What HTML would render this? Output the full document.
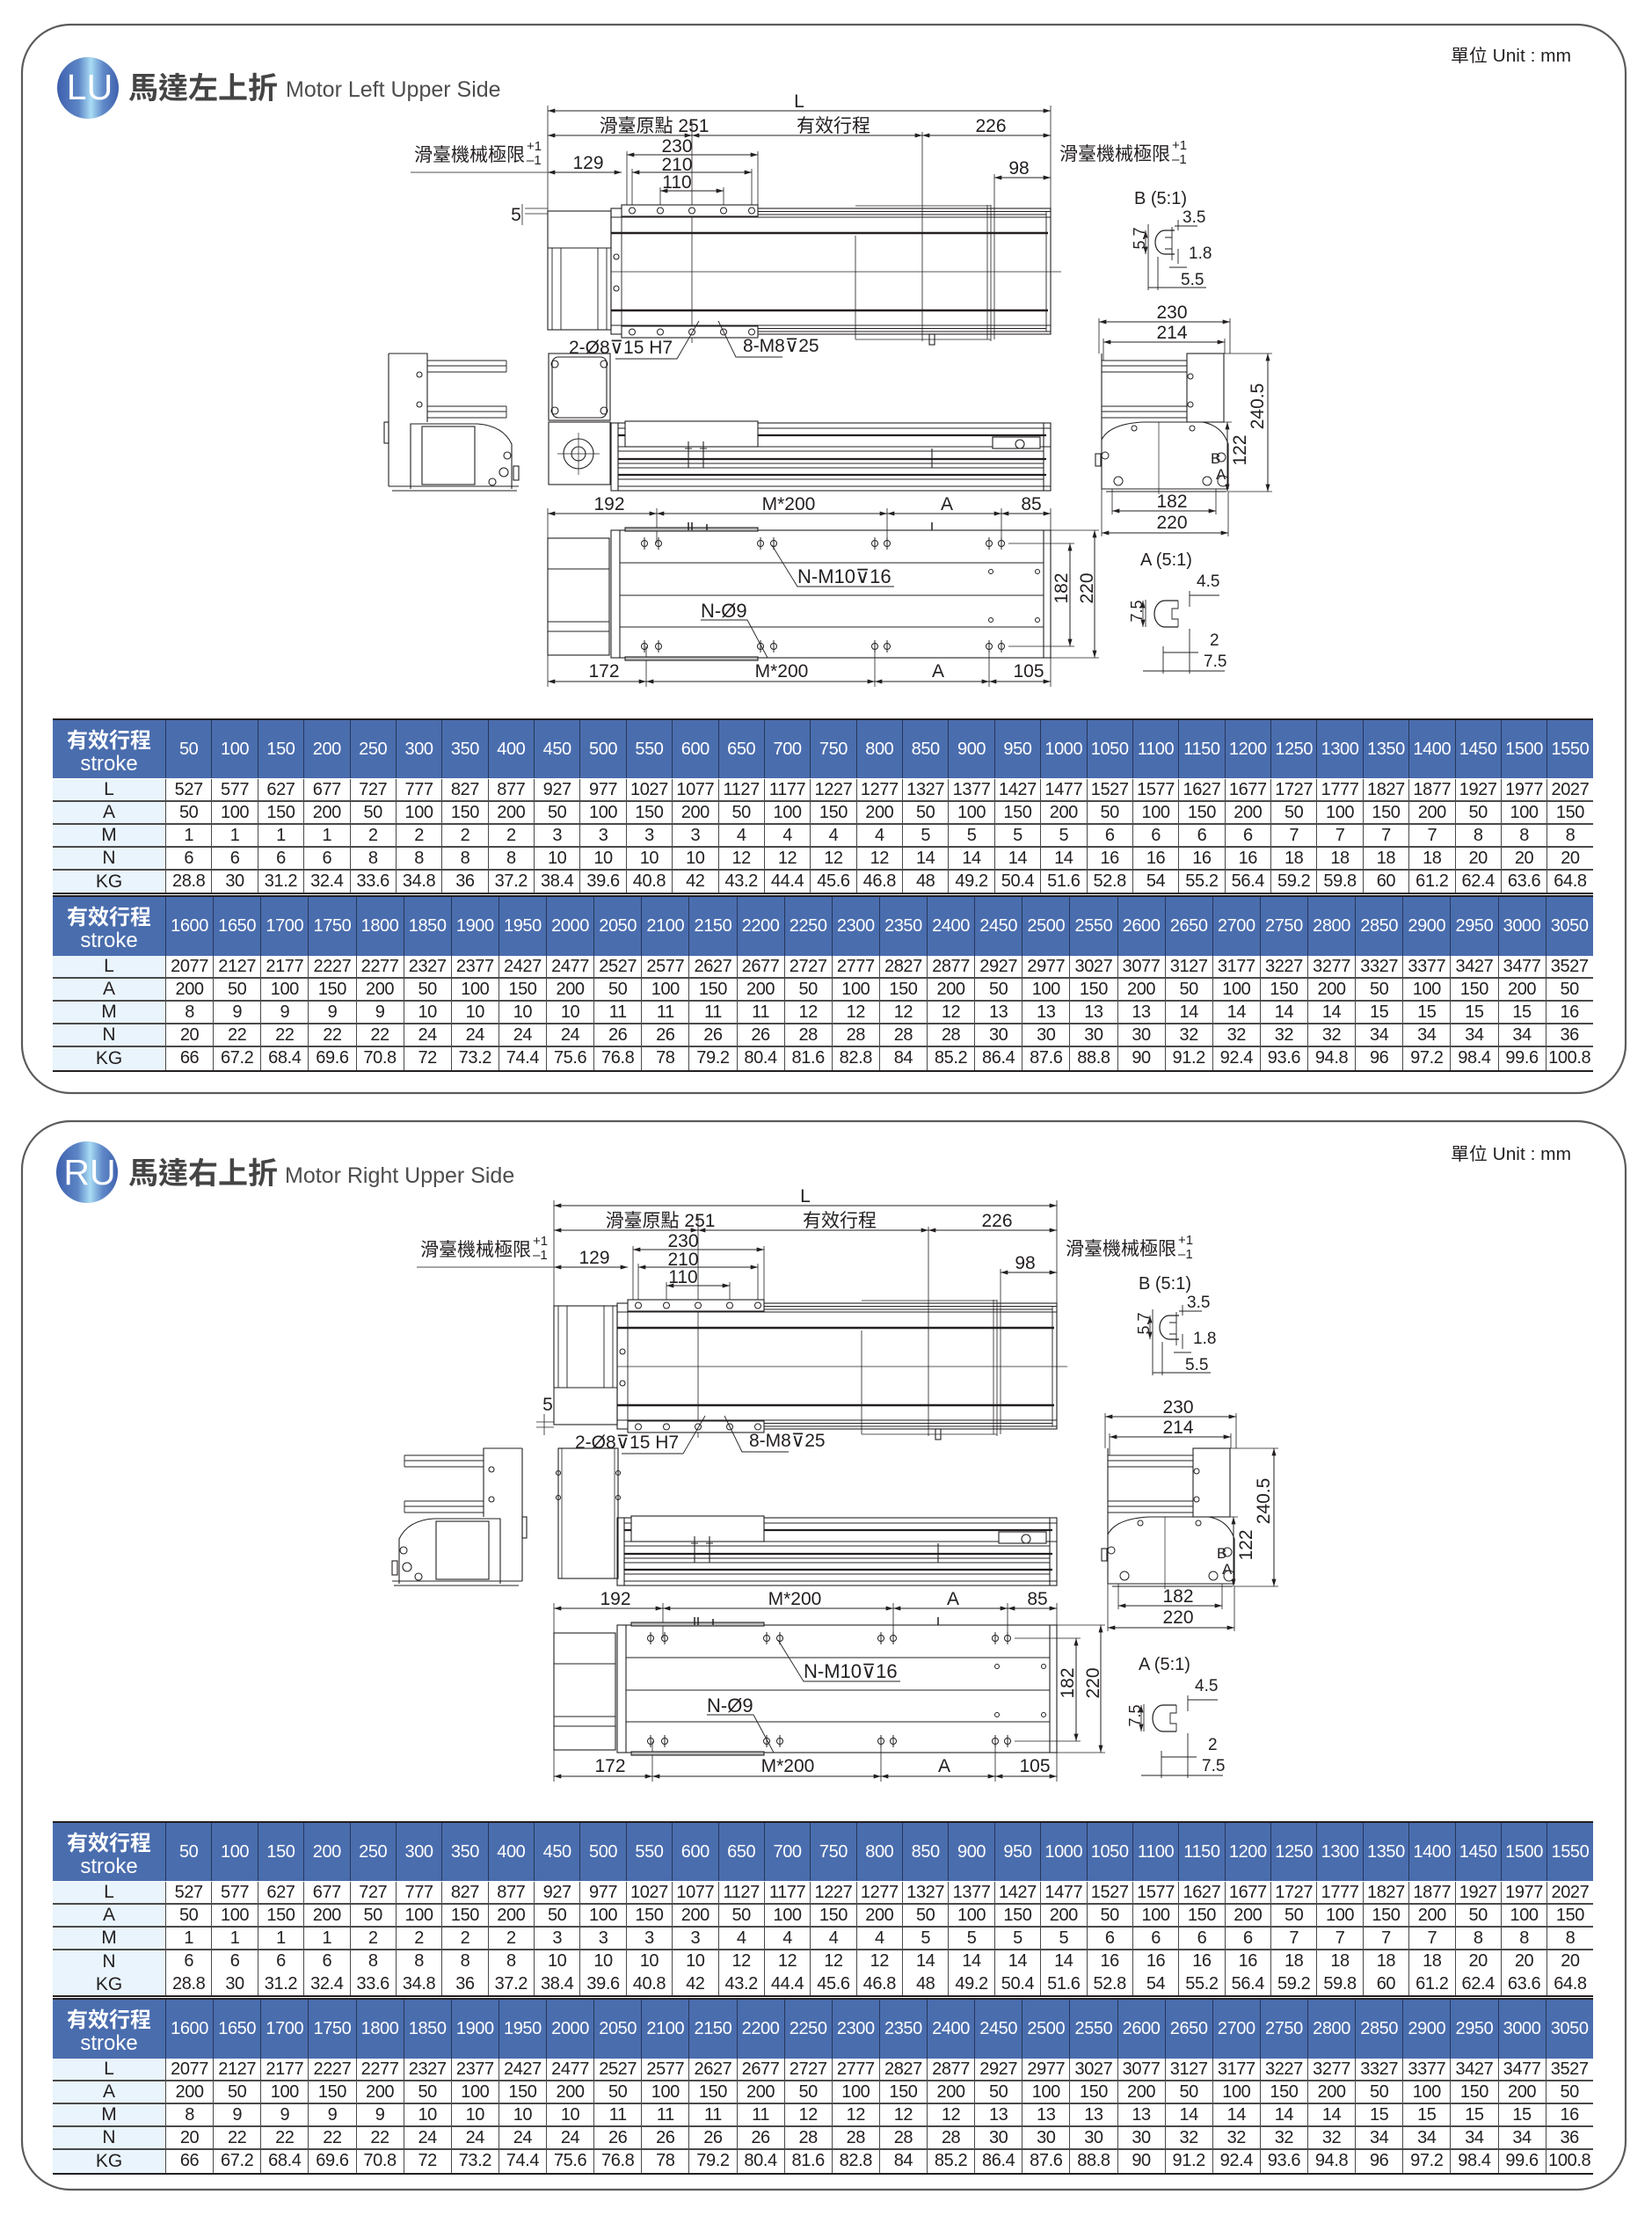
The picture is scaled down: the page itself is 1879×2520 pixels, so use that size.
<!DOCTYPE html>
<html><head><meta charset="utf-8">
<style>
*{margin:0;padding:0}
body{width:1879px;height:2520px;position:relative;background:#fff;overflow:hidden;font-family:"Liberation Sans","Noto Sans CJK TC",sans-serif}
.ln{position:absolute;left:60px;width:1752px;height:2px;background:#231f20}
.h{position:absolute;left:60px;width:1752px;display:flex;background:#4a6dae;color:#fff;font-size:20px}
.h b{flex:0 0 128px}
.h i{font-style:normal;flex:0 0 52.387px;box-sizing:border-box;border-left:1.5px solid #27365a;display:flex;align-items:center;justify-content:center;letter-spacing:-0.4px;white-space:nowrap}
.r{position:absolute;left:60px;width:1752px;height:26px;display:flex;box-sizing:border-box;border-bottom:2px solid #4a4a4a;font-size:20px;line-height:24px;color:#231f20}
.r.n{border-bottom:0;line-height:25px}
.r.x{border-bottom:0;line-height:25px}
.r b{flex:0 0 128px;background:#e9f4fc;text-align:center;font-weight:normal;font-size:21px}
.r i{font-style:normal;flex:0 0 52.387px;box-sizing:border-box;border-left:1.5px solid #4a4a4a;text-align:center;letter-spacing:-0.4px;white-space:nowrap}
.w i{flex-basis:54.133px}
svg{position:absolute;left:0;top:0}
</style></head><body>

<!-- ===== SECTION 1 TABLES ===== -->
<div class="ln" style="top:817px"></div>
<div class="h" style="top:819px;height:66px"><b></b><i>50</i><i>100</i><i>150</i><i>200</i><i>250</i><i>300</i><i>350</i><i>400</i><i>450</i><i>500</i><i>550</i><i>600</i><i>650</i><i>700</i><i>750</i><i>800</i><i>850</i><i>900</i><i>950</i><i>1000</i><i>1050</i><i>1100</i><i>1150</i><i>1200</i><i>1250</i><i>1300</i><i>1350</i><i>1400</i><i>1450</i><i>1500</i><i>1550</i></div>
<div class="r" style="top:886px"><b>L</b><i>527</i><i>577</i><i>627</i><i>677</i><i>727</i><i>777</i><i>827</i><i>877</i><i>927</i><i>977</i><i>1027</i><i>1077</i><i>1127</i><i>1177</i><i>1227</i><i>1277</i><i>1327</i><i>1377</i><i>1427</i><i>1477</i><i>1527</i><i>1577</i><i>1627</i><i>1677</i><i>1727</i><i>1777</i><i>1827</i><i>1877</i><i>1927</i><i>1977</i><i>2027</i></div>
<div class="r" style="top:912px"><b>A</b><i>50</i><i>100</i><i>150</i><i>200</i><i>50</i><i>100</i><i>150</i><i>200</i><i>50</i><i>100</i><i>150</i><i>200</i><i>50</i><i>100</i><i>150</i><i>200</i><i>50</i><i>100</i><i>150</i><i>200</i><i>50</i><i>100</i><i>150</i><i>200</i><i>50</i><i>100</i><i>150</i><i>200</i><i>50</i><i>100</i><i>150</i></div>
<div class="r" style="top:938px"><b>M</b><i>1</i><i>1</i><i>1</i><i>1</i><i>2</i><i>2</i><i>2</i><i>2</i><i>3</i><i>3</i><i>3</i><i>3</i><i>4</i><i>4</i><i>4</i><i>4</i><i>5</i><i>5</i><i>5</i><i>5</i><i>6</i><i>6</i><i>6</i><i>6</i><i>7</i><i>7</i><i>7</i><i>7</i><i>8</i><i>8</i><i>8</i></div>
<div class="r" style="top:964px"><b>N</b><i>6</i><i>6</i><i>6</i><i>6</i><i>8</i><i>8</i><i>8</i><i>8</i><i>10</i><i>10</i><i>10</i><i>10</i><i>12</i><i>12</i><i>12</i><i>12</i><i>14</i><i>14</i><i>14</i><i>14</i><i>16</i><i>16</i><i>16</i><i>16</i><i>18</i><i>18</i><i>18</i><i>18</i><i>20</i><i>20</i><i>20</i></div>
<div class="r n" style="top:990px;height:25px"><b>KG</b><i>28.8</i><i>30</i><i>31.2</i><i>32.4</i><i>33.6</i><i>34.8</i><i>36</i><i>37.2</i><i>38.4</i><i>39.6</i><i>40.8</i><i>42</i><i>43.2</i><i>44.4</i><i>45.6</i><i>46.8</i><i>48</i><i>49.2</i><i>50.4</i><i>51.6</i><i>52.8</i><i>54</i><i>55.2</i><i>56.4</i><i>59.2</i><i>59.8</i><i>60</i><i>61.2</i><i>62.4</i><i>63.6</i><i>64.8</i></div>
<div class="ln" style="top:1015px"></div>
<div class="ln" style="top:1018px"></div>
<div class="h w" style="top:1020px;height:67px"><b></b><i>1600</i><i>1650</i><i>1700</i><i>1750</i><i>1800</i><i>1850</i><i>1900</i><i>1950</i><i>2000</i><i>2050</i><i>2100</i><i>2150</i><i>2200</i><i>2250</i><i>2300</i><i>2350</i><i>2400</i><i>2450</i><i>2500</i><i>2550</i><i>2600</i><i>2650</i><i>2700</i><i>2750</i><i>2800</i><i>2850</i><i>2900</i><i>2950</i><i>3000</i><i>3050</i></div>
<div class="r w" style="top:1087px"><b>L</b><i>2077</i><i>2127</i><i>2177</i><i>2227</i><i>2277</i><i>2327</i><i>2377</i><i>2427</i><i>2477</i><i>2527</i><i>2577</i><i>2627</i><i>2677</i><i>2727</i><i>2777</i><i>2827</i><i>2877</i><i>2927</i><i>2977</i><i>3027</i><i>3077</i><i>3127</i><i>3177</i><i>3227</i><i>3277</i><i>3327</i><i>3377</i><i>3427</i><i>3477</i><i>3527</i></div>
<div class="r w" style="top:1113px"><b>A</b><i>200</i><i>50</i><i>100</i><i>150</i><i>200</i><i>50</i><i>100</i><i>150</i><i>200</i><i>50</i><i>100</i><i>150</i><i>200</i><i>50</i><i>100</i><i>150</i><i>200</i><i>50</i><i>100</i><i>150</i><i>200</i><i>50</i><i>100</i><i>150</i><i>200</i><i>50</i><i>100</i><i>150</i><i>200</i><i>50</i></div>
<div class="r w" style="top:1139px"><b>M</b><i>8</i><i>9</i><i>9</i><i>9</i><i>9</i><i>10</i><i>10</i><i>10</i><i>10</i><i>11</i><i>11</i><i>11</i><i>11</i><i>12</i><i>12</i><i>12</i><i>12</i><i>13</i><i>13</i><i>13</i><i>13</i><i>14</i><i>14</i><i>14</i><i>14</i><i>15</i><i>15</i><i>15</i><i>15</i><i>16</i></div>
<div class="r w" style="top:1165px"><b>N</b><i>20</i><i>22</i><i>22</i><i>22</i><i>22</i><i>24</i><i>24</i><i>24</i><i>24</i><i>26</i><i>26</i><i>26</i><i>26</i><i>28</i><i>28</i><i>28</i><i>28</i><i>30</i><i>30</i><i>30</i><i>30</i><i>32</i><i>32</i><i>32</i><i>32</i><i>34</i><i>34</i><i>34</i><i>34</i><i>36</i></div>
<div class="r w n" style="top:1191px"><b>KG</b><i>66</i><i>67.2</i><i>68.4</i><i>69.6</i><i>70.8</i><i>72</i><i>73.2</i><i>74.4</i><i>75.6</i><i>76.8</i><i>78</i><i>79.2</i><i>80.4</i><i>81.6</i><i>82.8</i><i>84</i><i>85.2</i><i>86.4</i><i>87.6</i><i>88.8</i><i>90</i><i>91.2</i><i>92.4</i><i>93.6</i><i>94.8</i><i>96</i><i>97.2</i><i>98.4</i><i>99.6</i><i>100.8</i></div>
<div class="ln" style="top:1217px"></div>

<!-- ===== SECTION 2 TABLES ===== -->
<div class="ln" style="top:2071px"></div>
<div class="h" style="top:2073px;height:66px"><b></b><i>50</i><i>100</i><i>150</i><i>200</i><i>250</i><i>300</i><i>350</i><i>400</i><i>450</i><i>500</i><i>550</i><i>600</i><i>650</i><i>700</i><i>750</i><i>800</i><i>850</i><i>900</i><i>950</i><i>1000</i><i>1050</i><i>1100</i><i>1150</i><i>1200</i><i>1250</i><i>1300</i><i>1350</i><i>1400</i><i>1450</i><i>1500</i><i>1550</i></div>
<div class="r" style="top:2140px"><b>L</b><i>527</i><i>577</i><i>627</i><i>677</i><i>727</i><i>777</i><i>827</i><i>877</i><i>927</i><i>977</i><i>1027</i><i>1077</i><i>1127</i><i>1177</i><i>1227</i><i>1277</i><i>1327</i><i>1377</i><i>1427</i><i>1477</i><i>1527</i><i>1577</i><i>1627</i><i>1677</i><i>1727</i><i>1777</i><i>1827</i><i>1877</i><i>1927</i><i>1977</i><i>2027</i></div>
<div class="r" style="top:2166px"><b>A</b><i>50</i><i>100</i><i>150</i><i>200</i><i>50</i><i>100</i><i>150</i><i>200</i><i>50</i><i>100</i><i>150</i><i>200</i><i>50</i><i>100</i><i>150</i><i>200</i><i>50</i><i>100</i><i>150</i><i>200</i><i>50</i><i>100</i><i>150</i><i>200</i><i>50</i><i>100</i><i>150</i><i>200</i><i>50</i><i>100</i><i>150</i></div>
<div class="r" style="top:2192px"><b>M</b><i>1</i><i>1</i><i>1</i><i>1</i><i>2</i><i>2</i><i>2</i><i>2</i><i>3</i><i>3</i><i>3</i><i>3</i><i>4</i><i>4</i><i>4</i><i>4</i><i>5</i><i>5</i><i>5</i><i>5</i><i>6</i><i>6</i><i>6</i><i>6</i><i>7</i><i>7</i><i>7</i><i>7</i><i>8</i><i>8</i><i>8</i></div>
<div class="r x" style="top:2218px"><b>N</b><i>6</i><i>6</i><i>6</i><i>6</i><i>8</i><i>8</i><i>8</i><i>8</i><i>10</i><i>10</i><i>10</i><i>10</i><i>12</i><i>12</i><i>12</i><i>12</i><i>14</i><i>14</i><i>14</i><i>14</i><i>16</i><i>16</i><i>16</i><i>16</i><i>18</i><i>18</i><i>18</i><i>18</i><i>20</i><i>20</i><i>20</i></div>
<div class="r n" style="top:2244px;height:25px"><b>KG</b><i>28.8</i><i>30</i><i>31.2</i><i>32.4</i><i>33.6</i><i>34.8</i><i>36</i><i>37.2</i><i>38.4</i><i>39.6</i><i>40.8</i><i>42</i><i>43.2</i><i>44.4</i><i>45.6</i><i>46.8</i><i>48</i><i>49.2</i><i>50.4</i><i>51.6</i><i>52.8</i><i>54</i><i>55.2</i><i>56.4</i><i>59.2</i><i>59.8</i><i>60</i><i>61.2</i><i>62.4</i><i>63.6</i><i>64.8</i></div>
<div class="ln" style="top:2269px"></div>
<div class="ln" style="top:2272px"></div>
<div class="h w" style="top:2274px;height:67px"><b></b><i>1600</i><i>1650</i><i>1700</i><i>1750</i><i>1800</i><i>1850</i><i>1900</i><i>1950</i><i>2000</i><i>2050</i><i>2100</i><i>2150</i><i>2200</i><i>2250</i><i>2300</i><i>2350</i><i>2400</i><i>2450</i><i>2500</i><i>2550</i><i>2600</i><i>2650</i><i>2700</i><i>2750</i><i>2800</i><i>2850</i><i>2900</i><i>2950</i><i>3000</i><i>3050</i></div>
<div class="r w" style="top:2341px"><b>L</b><i>2077</i><i>2127</i><i>2177</i><i>2227</i><i>2277</i><i>2327</i><i>2377</i><i>2427</i><i>2477</i><i>2527</i><i>2577</i><i>2627</i><i>2677</i><i>2727</i><i>2777</i><i>2827</i><i>2877</i><i>2927</i><i>2977</i><i>3027</i><i>3077</i><i>3127</i><i>3177</i><i>3227</i><i>3277</i><i>3327</i><i>3377</i><i>3427</i><i>3477</i><i>3527</i></div>
<div class="r w" style="top:2367px"><b>A</b><i>200</i><i>50</i><i>100</i><i>150</i><i>200</i><i>50</i><i>100</i><i>150</i><i>200</i><i>50</i><i>100</i><i>150</i><i>200</i><i>50</i><i>100</i><i>150</i><i>200</i><i>50</i><i>100</i><i>150</i><i>200</i><i>50</i><i>100</i><i>150</i><i>200</i><i>50</i><i>100</i><i>150</i><i>200</i><i>50</i></div>
<div class="r w" style="top:2393px"><b>M</b><i>8</i><i>9</i><i>9</i><i>9</i><i>9</i><i>10</i><i>10</i><i>10</i><i>10</i><i>11</i><i>11</i><i>11</i><i>11</i><i>12</i><i>12</i><i>12</i><i>12</i><i>13</i><i>13</i><i>13</i><i>13</i><i>14</i><i>14</i><i>14</i><i>14</i><i>15</i><i>15</i><i>15</i><i>15</i><i>16</i></div>
<div class="r w" style="top:2419px"><b>N</b><i>20</i><i>22</i><i>22</i><i>22</i><i>22</i><i>24</i><i>24</i><i>24</i><i>24</i><i>26</i><i>26</i><i>26</i><i>26</i><i>28</i><i>28</i><i>28</i><i>28</i><i>30</i><i>30</i><i>30</i><i>30</i><i>32</i><i>32</i><i>32</i><i>32</i><i>34</i><i>34</i><i>34</i><i>34</i><i>36</i></div>
<div class="r w n" style="top:2445px"><b>KG</b><i>66</i><i>67.2</i><i>68.4</i><i>69.6</i><i>70.8</i><i>72</i><i>73.2</i><i>74.4</i><i>75.6</i><i>76.8</i><i>78</i><i>79.2</i><i>80.4</i><i>81.6</i><i>82.8</i><i>84</i><i>85.2</i><i>86.4</i><i>87.6</i><i>88.8</i><i>90</i><i>91.2</i><i>92.4</i><i>93.6</i><i>94.8</i><i>96</i><i>97.2</i><i>98.4</i><i>99.6</i><i>100.8</i></div>
<div class="ln" style="top:2471px"></div>

<svg width="1879" height="2520" viewBox="0 0 1879 2520" xmlns="http://www.w3.org/2000/svg">
<defs>
<marker id="ar" viewBox="0 0 10 6" refX="10" refY="3" markerWidth="9" markerHeight="5" markerUnits="userSpaceOnUse" orient="auto-start-reverse"><path d="M0,0L10,3L0,6z" fill="#231f20"/></marker>
<linearGradient id="lg" x1="0" x2="1" y1="0" y2="0"><stop offset="0" stop-color="#3d5fad"/><stop offset="0.35" stop-color="#5d86c6"/><stop offset="0.55" stop-color="#a9dcf4"/><stop offset="0.75" stop-color="#6089c8"/><stop offset="1" stop-color="#3f61ae"/></linearGradient>

<g id="d1" fill="none" stroke="#231f20" stroke-width="1.1">
 <g stroke-width="1" marker-start="url(#ar)" marker-end="url(#ar)">
  <path d="M623,126H1195"/>
  <path d="M623,154H787"/><path d="M787,154H1049"/><path d="M1049,154H1195"/>
  <path d="M713,176H862"/><path d="M719,196H855"/><path d="M623,196H707"/>
  <path d="M751,217H823"/><path d="M1131,202H1195"/>
  <path d="M623,584H747"/><path d="M747,584H1009"/><path d="M1009,584H1139"/><path d="M1139,584H1195"/>
  <path d="M623,775H735"/><path d="M735,775H995"/><path d="M995,775H1125"/><path d="M1125,775H1195"/>
  <path d="M1217,618V735"/><path d="M1245,603V748"/>
  <path d="M1250,366H1399"/><path d="M1255,389H1393"/>
  <path d="M1442,402V559"/><path d="M1396,480V559"/>
  <path d="M1265,581H1383"/><path d="M1253,606H1397"/>
 </g>
 <path stroke-width="0.8" d="M623,120V375M1195,120V237M1049,150V388M787,138V390M713,172V236M862,172V236M719,192V240M855,192V240M751,213V240M823,213V240M1131,198V386"/>
 <path d="M467,196H623" stroke="#8a8a8a" stroke-width="1.6"/>
 <rect x="695" y="237" width="500" height="143"/>
 <path stroke-width="0.9" d="M707,240.5H1195M862,244H1190M695,247H1195M695,370H1195M862,373.5H1190M707,377H1195M707,247V370M1190,240V377"/>
 <path d="M695,265H1192M695,353H1192" stroke-width="2.6"/>
 <path d="M695,309H1207" stroke-width="0.8"/>
 <rect x="707" y="233" width="155" height="13" fill="#fff"/>
 <rect x="707" y="371" width="155" height="13" fill="#fff"/>
 <g stroke-width="1"><circle cx="719" cy="239.5" r="3.5"/><circle cx="751" cy="239.5" r="3.5"/><circle cx="787" cy="239.5" r="3.5"/><circle cx="823" cy="239.5" r="3.5"/><circle cx="855" cy="239.5" r="3.5"/><circle cx="719" cy="377.5" r="3.5"/><circle cx="751" cy="377.5" r="3.5"/><circle cx="787" cy="377.5" r="3.5"/><circle cx="823" cy="377.5" r="3.5"/><circle cx="855" cy="377.5" r="3.5"/></g>
 <path stroke-width="0.8" d="M973,234H1127M973,386H1127M973,268V386M1123,233V386M1127,233V388"/>
 <rect x="1057" y="380" width="6" height="12"/>
 <circle cx="701" cy="292" r="3"/><circle cx="701" cy="328" r="3"/>
 <path stroke-width="0.9" d="M700,408H770L795,365M890,406H837L817,365"/>
 <rect x="695" y="481" width="500" height="77"/>
 <path d="M703,481V558M1187,481V558"/>
 <path stroke-width="0.9" d="M703,487H1195M703,508H1195M703,513H1187M703,527H1187M703,532H1187M703,545H1187M703,553H1195"/>
 <path d="M703,495H1190M703,522H1190M703,540H1190" stroke-width="2.2"/>
 <rect x="711" y="479" width="151" height="29" fill="#fff"/>
 <rect x="1129" y="497" width="54" height="13" fill="#fff"/>
 <circle cx="1160" cy="505" r="5"/>
 <path d="M783,502V532M800,502V532M1060,510V532M779,510H787M796,510H804"/>
 <path stroke-width="0.8" d="M623,578V612M747,578V618M1009,578V618M1139,578V618M1195,578V603M623,745V781M735,735V781M995,735V781M1125,735V781M1195,748V781M1147,618H1222M1147,735H1222M1195,603H1250M1195,748H1250"/>
 <rect x="695" y="603" width="500" height="145"/>
 <path d="M705,603V748M1187,603V748M705,640H1187M705,677H1187M705,713H1187"/>
 <rect x="711" y="600" width="151" height="4" fill="#bbb"/>
 <rect x="711" y="747" width="151" height="4" fill="#bbb"/>
 <path d="M783,594V603M787,594V603M804,596V603M1060,594V603" stroke-width="1.5"/>
 <rect x="623" y="612" width="70" height="133"/>
 <path d="M623,647H693M623,707H693M623,718H693"/>
 <g stroke-width="1"><circle cx="733" cy="618" r="3.5"/><circle cx="749" cy="618" r="3.5"/><circle cx="865" cy="618" r="3.5"/><circle cx="880" cy="618" r="3.5"/><circle cx="995" cy="618" r="3.5"/><circle cx="1009" cy="618" r="3.5"/><circle cx="1125" cy="618" r="3.5"/><circle cx="1139" cy="618" r="3.5"/><circle cx="733" cy="735" r="3.5"/><circle cx="749" cy="735" r="3.5"/><circle cx="865" cy="735" r="3.5"/><circle cx="880" cy="735" r="3.5"/><circle cx="995" cy="735" r="3.5"/><circle cx="1009" cy="735" r="3.5"/><circle cx="1125" cy="735" r="3.5"/><circle cx="1139" cy="735" r="3.5"/>
 <path d="M733,611V625M749,611V625M865,611V625M880,611V625M995,611V625M1009,611V625M1125,611V625M1139,611V625M733,728V742M749,728V742M865,728V742M880,728V742M995,728V742M1009,728V742M1125,728V742M1139,728V742"/>
 <circle cx="1127" cy="650" r="2.5"/><circle cx="1180" cy="650" r="2.5"/><circle cx="1127" cy="705" r="2.5"/><circle cx="1180" cy="705" r="2.5"/></g>
 <path stroke-width="0.9" d="M1017,667H907L878,620M850,705H797M850,705L873,748"/>
 <path d="M1253,402V556M1253,556H1397M1258,559H1395"/>
 <rect x="1350" y="402" width="42" height="78"/>
 <path stroke-width="0.9" d="M1253,410H1350M1253,416H1350M1253,423H1350M1253,462H1350M1253,468H1350M1253,475H1350"/>
 <path d="M1253,500Q1262,482 1300,480H1368Q1390,484 1397,505V556"/>
 <path d="M1318,480V562" stroke-width="0.7"/>
 <rect x="1246" y="516" width="6" height="14"/>
 <g stroke-width="1"><circle cx="1354" cy="428" r="3"/><circle cx="1354" cy="460" r="3"/><circle cx="1290" cy="487" r="3"/><circle cx="1356" cy="487" r="3"/><circle cx="1257" cy="518" r="4"/><circle cx="1272" cy="547" r="5"/><circle cx="1373" cy="547" r="5"/><circle cx="1391" cy="547" r="6"/><circle cx="1389" cy="520" r="5"/></g>
 <path stroke-width="0.8" d="M1250,362V402M1399,362V402M1255,385V410M1393,385V402M1392,402H1447M1397,559H1447M1392,480H1401M1265,556V585M1383,556V585M1253,556V610M1397,559V610"/>
</g>

<g id="le" fill="none" stroke="#231f20" stroke-width="1.1">
 <path d="M442,402H486V480M442,402V553"/>
 <path stroke-width="0.9" d="M486,410H576M486,416H576M486,423H576M486,462H576M486,468H576M486,475H576M576,410V423M576,462V475"/>
 <path d="M467,556V482H543Q572,484 582,505V556"/>
 <rect x="480" y="485" width="60" height="66"/>
 <path d="M442,553H590M446,558H588"/>
 <rect x="437" y="480" width="5" height="24"/>
 <rect x="584" y="530" width="6" height="16"/>
 <circle cx="477" cy="426" r="3"/><circle cx="477" cy="460" r="3"/><circle cx="577" cy="518" r="4"/><circle cx="573" cy="537" r="5"/><circle cx="560" cy="548" r="4"/>
</g>

<g id="db" fill="none" stroke="#231f20" stroke-width="0.9">
 <path d="M1306,255V296M1333,258V270M1333,283V296"/>
 <path d="M1336,262H1325A11,13.5 0 0 0 1325,289H1336" stroke-width="1.2"/>
 <path d="M1325,270H1333V283H1325"/>
 <path d="M1336,257H1362M1340,250V262M1340,283V300M1330,304H1350M1317,292V330M1306,296V330M1306,327H1372"/>
 <path d="M1303,262V289" marker-start="url(#ar)" marker-end="url(#ar)"/>
</g>
<g id="da" fill="none" stroke="#231f20" stroke-width="0.9">
 <path d="M1303,682V713"/>
 <path d="M1340,683H1325A12,15 0 0 0 1325,713H1340" stroke-width="1.2"/>
 <path d="M1340,683V692H1333V704H1340V713"/>
 <path d="M1353,677H1387M1353,672V690M1323,742H1363M1323,735V766M1353,715V766M1300,763H1393"/>
 <path d="M1300,683V713" marker-start="url(#ar)" marker-end="url(#ar)"/>
</g>
</defs>

<rect x="25" y="28" width="1824" height="1215" rx="55" fill="none" stroke="#5b5b5b" stroke-width="2.2"/>
<rect x="25" y="1275" width="1824" height="1215" rx="55" fill="none" stroke="#5b5b5b" stroke-width="2.2"/>

<circle cx="100" cy="100" r="35" fill="url(#lg)"/>
<text x="102" y="113" font-size="41" fill="#fff" text-anchor="middle" font-family="Liberation Sans">LU</text>
<text x="146" y="112" font-size="34" font-weight="bold" fill="#444" font-family="Noto Sans CJK TC,sans-serif">馬達左上折</text>
<text x="325" y="110" font-size="25" fill="#4d4d4d" font-family="Liberation Sans">Motor Left Upper Side</text>
<text x="1650" y="70" font-size="20" fill="#231f20" textLength="137" lengthAdjust="spacingAndGlyphs" font-family="Liberation Sans,Noto Sans CJK TC,sans-serif">單位 Unit : mm</text>

<circle cx="99" cy="1333" r="35" fill="url(#lg)"/>
<text x="102" y="1347" font-size="41" fill="#fff" text-anchor="middle" font-family="Liberation Sans">RU</text>
<text x="146" y="1346" font-size="34" font-weight="bold" fill="#444" font-family="Noto Sans CJK TC,sans-serif">馬達右上折</text>
<text x="324" y="1345" font-size="25" fill="#4d4d4d" font-family="Liberation Sans">Motor Right Upper Side</text>
<text x="1650" y="1319" font-size="20" fill="#231f20" textLength="137" lengthAdjust="spacingAndGlyphs" font-family="Liberation Sans,Noto Sans CJK TC,sans-serif">單位 Unit : mm</text>

<g fill="#fff" text-anchor="middle">
 <g font-size="24" font-weight="bold" font-family="Noto Sans CJK TC,sans-serif">
  <text x="124" y="850">有效行程</text><text x="124" y="1051">有效行程</text>
  <text x="124" y="2104">有效行程</text><text x="124" y="2305">有效行程</text>
 </g>
 <g font-size="24" font-family="Liberation Sans,sans-serif">
  <text x="124" y="876">stroke</text><text x="124" y="1077">stroke</text>
  <text x="124" y="2130">stroke</text><text x="124" y="2331">stroke</text>
 </g>
</g>

<!-- ===== SECTION 1 DRAWING ===== -->
<use href="#d1"/>
<use href="#le"/>
<use href="#db"/>
<use href="#da"/>
<g fill="none" stroke="#231f20" stroke-width="1.1">
 <rect x="623" y="240" width="72" height="135"/>
 <path stroke-width="0.9" d="M623,282H695M628,282V375M638,282V375M680,282V375M690,282V375"/>
 <path stroke-width="0.8" d="M597,237H623M597,243H623M594,232V256"/>
 <rect x="624" y="402" width="70" height="76"/>
 <rect x="628" y="406" width="62" height="69" rx="7"/>
 <circle cx="631" cy="414" r="4"/><circle cx="687" cy="414" r="4"/><circle cx="631" cy="467" r="4"/><circle cx="687" cy="467" r="4"/>
 <rect x="624" y="480" width="70" height="71"/>
 <circle cx="658" cy="516" r="17"/><circle cx="658" cy="516" r="8"/>
 <path d="M634,516H682M658,492V540" stroke-width="0.7"/>
</g>
<g fill="#231f20" font-family="Liberation Sans,Noto Sans CJK TC,sans-serif" font-size="21">
 <g text-anchor="middle">
  <text x="909" y="122">L</text>
  <text x="744" y="150">滑臺原點 251</text>
  <text x="948" y="150">有效行程</text>
  <text x="1127" y="150">226</text>
  <text x="770" y="173">230</text>
  <text x="770" y="194">210</text>
  <text x="669" y="192">129</text>
  <text x="770" y="214">110</text>
  <text x="1159" y="198">98</text>
  <text x="587" y="251">5</text>
  <text x="693" y="580">192</text><text x="897" y="580">M*200</text><text x="1077" y="580">A</text><text x="1173" y="580">85</text>
  <text x="687" y="770">172</text><text x="889" y="770">M*200</text><text x="1067" y="770">A</text><text x="1170" y="770">105</text>
  <text transform="translate(1214,669) rotate(-90)">182</text>
  <text transform="translate(1243,669) rotate(-90)">220</text>
  <text x="1333" y="362">230</text><text x="1333" y="385">214</text>
  <text transform="translate(1437,462) rotate(-90)">240.5</text>
  <text transform="translate(1417,512) rotate(-90)">122</text>
  <text x="1333" y="577">182</text><text x="1333" y="601">220</text>
  <text transform="translate(1302,271) rotate(-90)" font-size="18">5.7</text>
  <text transform="translate(1299,695) rotate(-90)" font-size="18">7.5</text>
 </g>
 <text x="471" y="183">滑臺機械極限</text>
 <text x="599" y="171" font-size="15">+1</text><text x="599" y="187" font-size="15">–1</text>
 <text x="1205" y="182">滑臺機械極限</text>
 <text x="1333" y="170" font-size="15">+1</text><text x="1333" y="186" font-size="15">–1</text>
 <text x="647" y="402">2-Ø8⊽15 H7</text>
 <text x="845" y="400">8-M8⊽25</text>
 <text x="907" y="663" font-size="22">N-M10⊽16</text>
 <text x="797" y="702" font-size="22">N-Ø9</text>
 <text x="1377" y="527" font-size="17">B</text><text x="1383" y="545" font-size="17">A</text>
 <text x="1290" y="232" font-size="20">B (5:1)</text>
 <text x="1345" y="253" font-size="19">3.5</text><text x="1352" y="294" font-size="19">1.8</text><text x="1343" y="324" font-size="19">5.5</text>
 <text x="1297" y="643" font-size="20">A (5:1)</text>
 <text x="1361" y="667" font-size="19">4.5</text><text x="1376" y="734" font-size="19">2</text><text x="1369" y="758" font-size="19">7.5</text>
</g>

<!-- ===== SECTION 2 DRAWING ===== -->
<use href="#d1" transform="translate(7,1245)"/>
<use href="#le" transform="translate(1036,1245) scale(-1,1)"/>
<use href="#db" transform="translate(5,1234)"/>
<use href="#da" transform="translate(-2,1256)"/>
<g fill="none" stroke="#231f20" stroke-width="1.1">
 <rect x="630" y="1485" width="72" height="135"/>
 <path stroke-width="0.9" d="M630,1578H702M635,1485V1578M645,1485V1578M687,1485V1578M697,1485V1578"/>
 <path stroke-width="0.8" d="M610,1617H630M610,1623H630M619,1608V1632"/>
 <rect x="635" y="1647" width="68" height="148"/>
 <path d="M639,1647V1795M699,1647V1795" stroke-width="0.8"/>
 <circle cx="635" cy="1675" r="2.5"/><circle cx="703" cy="1675" r="2.5"/><circle cx="635" cy="1703" r="2.5"/><circle cx="703" cy="1703" r="2.5"/>
</g>
<g fill="#231f20" font-family="Liberation Sans,Noto Sans CJK TC,sans-serif" font-size="21">
 <g text-anchor="middle">
  <text x="916" y="1367">L</text>
  <text x="751" y="1395">滑臺原點 251</text>
  <text x="955" y="1395">有效行程</text>
  <text x="1134" y="1395">226</text>
  <text x="777" y="1418">230</text>
  <text x="777" y="1439">210</text>
  <text x="676" y="1437">129</text>
  <text x="777" y="1459">110</text>
  <text x="1166" y="1443">98</text>
  <text x="623" y="1604">5</text>
  <text x="700" y="1825">192</text><text x="904" y="1825">M*200</text><text x="1084" y="1825">A</text><text x="1180" y="1825">85</text>
  <text x="694" y="2015">172</text><text x="896" y="2015">M*200</text><text x="1074" y="2015">A</text><text x="1177" y="2015">105</text>
  <text transform="translate(1221,1914) rotate(-90)">182</text>
  <text transform="translate(1250,1914) rotate(-90)">220</text>
  <text x="1340" y="1607">230</text><text x="1340" y="1630">214</text>
  <text transform="translate(1444,1707) rotate(-90)">240.5</text>
  <text transform="translate(1424,1757) rotate(-90)">122</text>
  <text x="1340" y="1822">182</text><text x="1340" y="1846">220</text>
  <text transform="translate(1307,1505) rotate(-90)" font-size="18">5.7</text>
  <text transform="translate(1297,1951) rotate(-90)" font-size="18">7.5</text>
 </g>
 <text x="478" y="1428">滑臺機械極限</text>
 <text x="606" y="1416" font-size="15">+1</text><text x="606" y="1432" font-size="15">–1</text>
 <text x="1212" y="1427">滑臺機械極限</text>
 <text x="1340" y="1415" font-size="15">+1</text><text x="1340" y="1431" font-size="15">–1</text>
 <text x="654" y="1647">2-Ø8⊽15 H7</text>
 <text x="852" y="1645">8-M8⊽25</text>
 <text x="914" y="1908" font-size="22">N-M10⊽16</text>
 <text x="804" y="1947" font-size="22">N-Ø9</text>
 <text x="1384" y="1772" font-size="17">B</text><text x="1390" y="1790" font-size="17">A</text>
 <text x="1295" y="1466" font-size="20">B (5:1)</text>
 <text x="1350" y="1487" font-size="19">3.5</text><text x="1357" y="1528" font-size="19">1.8</text><text x="1348" y="1558" font-size="19">5.5</text>
 <text x="1295" y="1899" font-size="20">A (5:1)</text>
 <text x="1359" y="1923" font-size="19">4.5</text><text x="1374" y="1990" font-size="19">2</text><text x="1367" y="2014" font-size="19">7.5</text>
</g>
</svg>
</body></html>
